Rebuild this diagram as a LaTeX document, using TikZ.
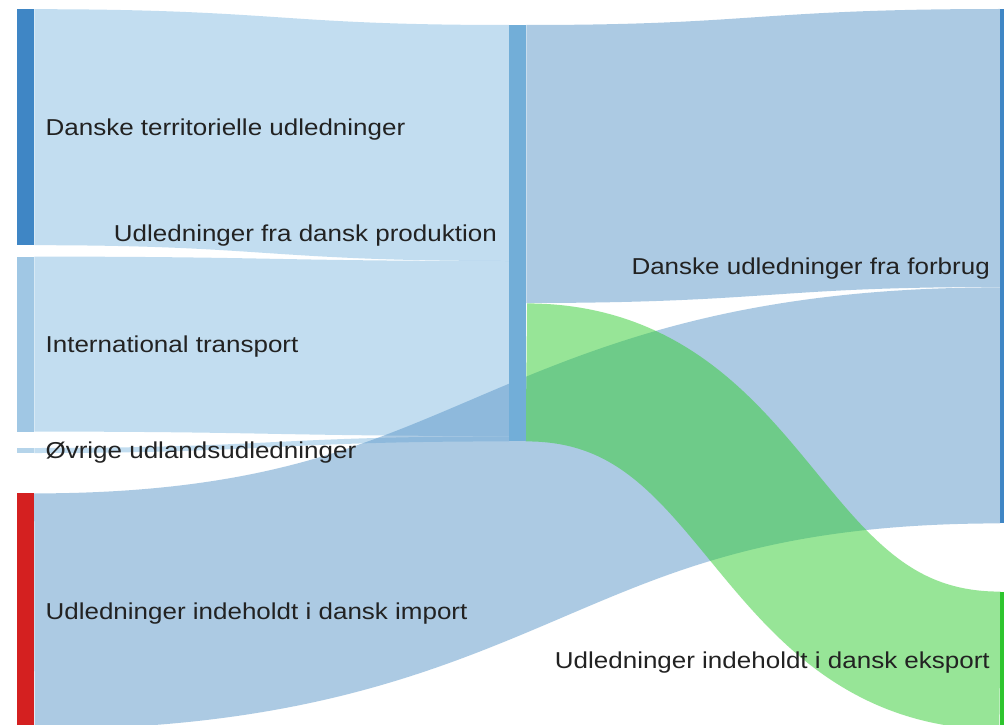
\documentclass[tikz,border=0pt]{standalone}
\usepackage{fontspec}
\setmainfont{Liberation Sans}[FakeStretch=1.13]
\usetikzlibrary{positioning,calc}
\definecolor{terrblue}{HTML}{3F86C5}
\definecolor{intlblue}{HTML}{A0C7E4}
\definecolor{ovrblue}{HTML}{B5D4EA}
\definecolor{impred}{HTML}{D42020}
\definecolor{prodblue}{HTML}{72AED8}
\definecolor{forbblue}{HTML}{3F86C5}
\definecolor{eksgreen}{HTML}{2EC52E}
\definecolor{lightflow}{HTML}{87BDE3}
\definecolor{blueflow}{HTML}{5B97C9}
\definecolor{greenflow}{HTML}{31CD31}
\definecolor{labeltext}{HTML}{222222}
\tikzset{bar/.style={rectangle,inner sep=0pt,minimum width=17pt,draw=none},
         flow/.style={line width=#1,draw opacity=.5,line cap=butt},
         lbl/.style={inner sep=0pt,yshift=-2pt,text=labeltext,font=\fontsize{23}{27}\selectfont}}

\begin{document}
\begin{tikzpicture}[x=1pt,y=-1pt]
\clip (0,0) rectangle (1004,725);
\fill[white] (0,0) rectangle (1004,725);

\node[bar,fill=terrblue,minimum height=236pt,anchor=north west] (terr) at (17,9) {};
\node[bar,fill=intlblue,minimum height=175pt,below=11pt of terr] (intl) {};
\node[bar,fill=ovrblue,minimum height=5pt,below=16pt of intl] (ovr) {};
\node[bar,fill=impred,minimum height=236pt,below=40pt of ovr] (imp) {};

\node[bar,fill=prodblue,minimum height=416pt,anchor=north west] (prod) at (509,25) {};

\node[bar,fill=forbblue,minimum height=514pt,anchor=north west] (forb) at (1000,9) {};
\node[bar,fill=eksgreen,minimum height=138pt,below=68pt of forb] (eks) {};

%band middles where they meet a node
\coordinate (prodIn1) at ($(prod.north west)+(0,118)$);
\coordinate (prodIn2) at ($(prod.north west)+(0,323.5)$);
\coordinate (prodIn3) at ($(prod.south west)+(0,-2.5)$);
\coordinate (prodOut1) at ($(prod.north east)+(0,139)$);
\coordinate (prodOut2) at ($(prod.south east)+(0,-69)$);
\coordinate (forbIn1) at ($(forb.north west)+(0,139)$);
\coordinate (forbIn2) at ($(forb.south west)+(0,-118)$);

\draw[flow=236pt,lightflow] (terr.east) .. controls +(237.5,0) and +(-237.5,0) .. (prodIn1);
\draw[flow=175pt,lightflow] (intl.east) .. controls +(237.5,0) and +(-237.5,0) .. (prodIn2);
\draw[flow=5pt,lightflow] (ovr.east) .. controls +(237.5,0) and +(-237.5,0) .. (prodIn3);
\draw[flow=278pt,blueflow] (prodOut1) .. controls +(237,0) and +(-237,0) .. (forbIn1);
\draw[flow=236pt,blueflow] (imp.east) .. controls +(483,0) and +(-483,0) .. (forbIn2);
\draw[flow=138pt,greenflow] (prodOut2) .. controls +(237,0) and +(-237,0) .. (eks.west);

\node[bar,fill=prodblue,minimum height=416pt,anchor=north west] at (prod.north west) {};

\node[lbl,right=11pt of terr] (terrlbl) {Danske territorielle udledninger};
\node[lbl,right=11pt of intl] (intllbl) {International transport};
\node[lbl,right=11pt of ovr] (ovrlbl) {Øvrige udlandsudledninger};
\node[lbl,right=11pt of imp] (implbl) {Udledninger indeholdt i dansk import};
\node[lbl,left=12pt of prod] (prodlbl) {Udledninger fra dansk produktion};
\node[lbl,left=10pt of forb] (forblbl) {Danske udledninger fra forbrug};
\node[lbl,left=10pt of eks] (ekslbl) {Udledninger indeholdt i dansk eksport};
\end{tikzpicture}
\end{document}
